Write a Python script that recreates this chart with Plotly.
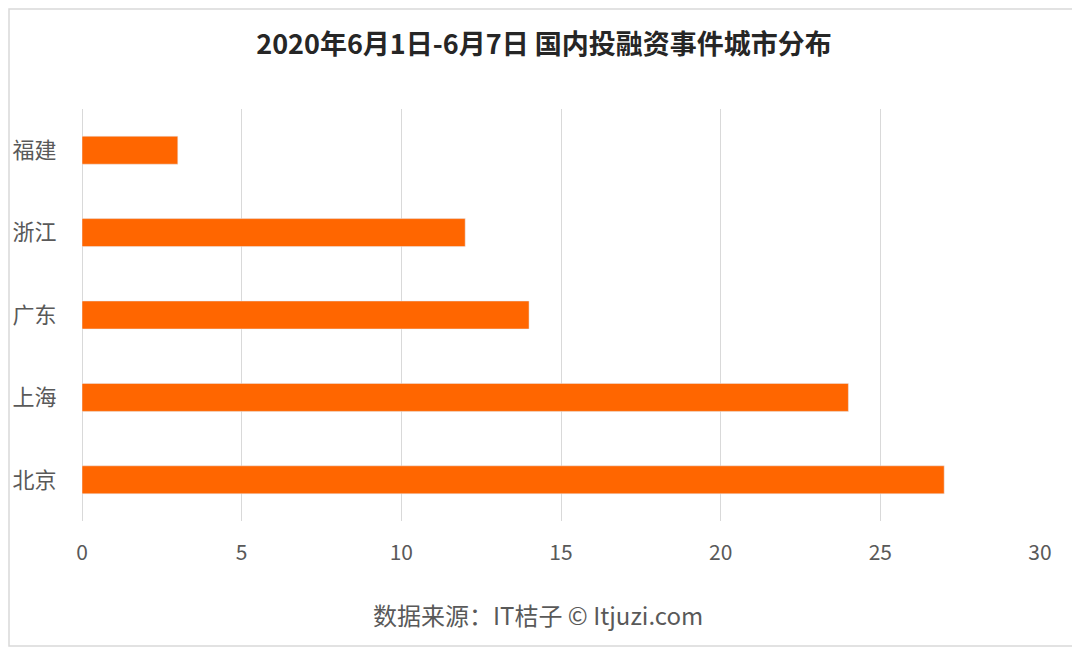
import plotly.graph_objects as go

cities = ["北京", "上海", "广东", "浙江", "福建"]
counts = [27, 24, 14, 12, 3]

title = "2020年6月1日-6月7日 国内投融资事件城市分布"
source = "数据来源：IT桔子 © Itjuzi.com"

font = "Noto Sans CJK SC"
# page body has an 8px margin, so offsets are relative to that
W, H = 1072, 639
ml, mt = 74, 101
pw, ph = 958, 412
mr, mb = W - ml - pw, H - mt - ph

fig = go.Figure(go.Bar(y=cities, x=counts, orientation="h",
                       marker_color="#FF6600", width=0.34))

fig.update_layout(
    width=W, height=H,
    margin=dict(l=ml, r=mr, t=mt, b=mb),
    plot_bgcolor="white", paper_bgcolor="white",
    font=dict(family=font, color="#595959", size=20),
    title=dict(text="<b>" + title + "</b>", x=0.5, xanchor="center",
               y=1 - 37 / H, yanchor="middle",
               font=dict(size=27, color="#262626")),
    showlegend=False,
)
fig.update_xaxes(range=[0, 30], dtick=5, showgrid=True, gridcolor="#D9D9D9",
                 gridwidth=1, zeroline=True, zerolinecolor="#D9D9D9",
                 zerolinewidth=1, showline=False, automargin=False,
                 tickfont=dict(size=21), ticks="outside", ticklen=13,
                 tickcolor="rgba(0,0,0,0)")
fig.update_yaxes(showgrid=False, showline=False, ticks="outside", ticklen=20,
                 automargin=False,
                 tickcolor="rgba(0,0,0,0)", tickfont=dict(size=22))

fig.add_annotation(text=source, xref="paper", yref="paper",
                   x=(530 - ml) / pw, y=-(606 - (H - mb)) / ph,
                   xanchor="center", yanchor="middle", showarrow=False,
                   font=dict(size=24, color="#595959"))

fig.add_shape(type="rect", xref="paper", yref="paper",
              x0=-(ml - 1) / pw, x1=1 + (mr - 1) / pw,
              y0=-(mb - 1) / ph, y1=1 + (mt - 1) / ph,
              line=dict(color="#D9D9D9", width=1.5))

fig.write_html("out.html")
